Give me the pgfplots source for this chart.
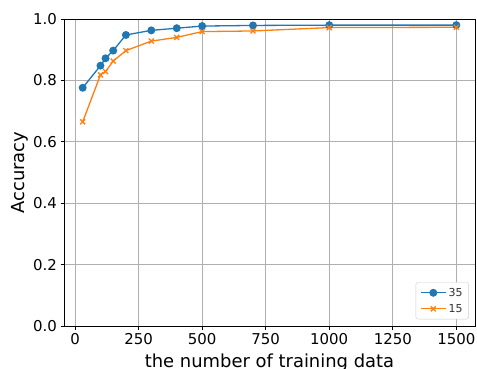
\documentclass[border=0pt]{standalone}
\usepackage{pgfplots}
\pgfplotsset{compat=1.18}
\usepackage{fontspec}
\setmainfont{DejaVu Sans}
\definecolor{tabblue}{HTML}{1F77B4}
\definecolor{taborange}{HTML}{FF7F0E}
\begin{document}
\begin{tikzpicture}[x=1bp,y=1bp]
\useasboundingbox (0,0) rectangle (477,368);
\begin{axis}[
  at={(64bp,42bp)}, anchor=south west,
  scale only axis, width=411bp, height=307bp,
  xmin=-43.5, xmax=1573.5, ymin=0, ymax=1,
  xtick={0,250,500,750,1000,1250,1500},
  ytick={0,0.2,0.4,0.6,0.8,1.0},
  xticklabel style={/pgf/number format/.cd,1000 sep={}},
  yticklabel style={/pgf/number format/.cd,fixed,fixed zerofill,precision=1},
  /pgf/number format/assume math mode=true,
  tick label style={font=\fontsize{15}{17}\selectfont},
  xlabel={the number of training data}, ylabel={Accuracy},
  label style={font=\fontsize{18}{21}\selectfont},
  xlabel style={at={(axis description cs:0.5,0)}, anchor=base, yshift=-41bp},
  ylabel style={at={(axis description cs:0,0.5)}, anchor=base, yshift=40bp},
  grid=major, major grid style={color=black!31, line width=0.8bp},
  axis line style={line width=0.8bp},
  tick style={black, line width=0.8bp},
  tick align=outside, major tick length=3.5bp,
  xtick pos=bottom, ytick pos=left,
  legend style={font=\fontsize{11}{13}\selectfont, text=black!80, draw=black!20, rounded corners=2bp, at={(0.985,0.022)}, anchor=south east, row sep=2.5bp, inner xsep=4bp, inner ysep=3.5bp},
  legend image code/.code={\draw[mark repeat=2,mark phase=2] plot coordinates {(0cm,0cm) (0.45cm,0cm) (0.9cm,0cm)};},
  legend cell align=left,
]
\addplot[color=tabblue, line width=1.3bp, mark=*, mark size=3.3bp] coordinates {
(30,0.776) (100,0.848) (120,0.872) (150,0.897) (200,0.948) (300,0.963) (400,0.970) (500,0.977) (700,0.979) (1000,0.980) (1500,0.980)};
\addlegendentry{35}
\addplot[color=taborange, line width=1.3bp, mark=x, mark size=3.5bp] coordinates {
(30,0.665) (100,0.818) (120,0.829) (150,0.863) (200,0.897) (300,0.928) (400,0.940) (500,0.959) (700,0.961) (1000,0.972) (1500,0.973)};
\addlegendentry{15}
\end{axis}
\end{tikzpicture}
\end{document}
